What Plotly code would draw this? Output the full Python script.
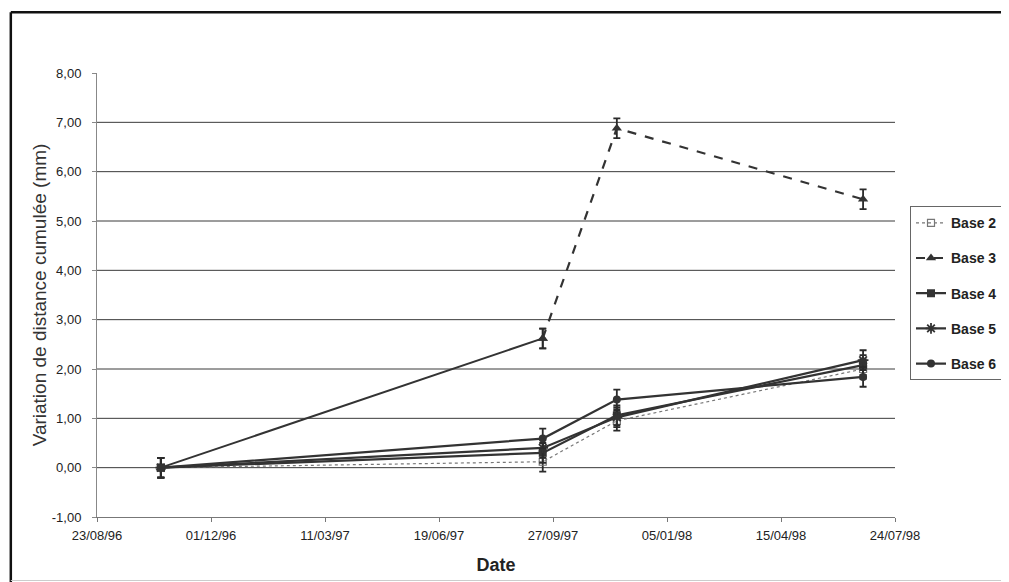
import plotly.graph_objects as go

# ---- data ----
dates = ["1996-10-18", "1997-09-18", "1997-11-22", "1998-06-26"]
base2 = [0.00, 0.12, 0.95, 2.00]
base3 = [0.00, 2.62, 6.88, 5.44]
base4 = [0.00, 0.30, 1.06, 2.08]
base5 = [0.00, 0.40, 1.02, 2.18]
base6 = [0.00, 0.59, 1.38, 1.84]
err2 = [0.20, 0.20, 0.20, 0.20]
err3 = [0.20, 0.20, 0.20, 0.20]
err4 = [0.20, 0.20, 0.20, 0.20]
err5 = [0.20, 0.20, 0.20, 0.20]
err6 = [0.20, 0.20, 0.20, 0.20]

tick_dates = ["1996-08-23", "1996-12-01", "1997-03-11", "1997-06-19",
              "1997-09-27", "1998-01-05", "1998-04-15", "1998-07-24"]
tick_labels = ["23/08/96", "01/12/96", "11/03/97", "19/06/97",
               "27/09/97", "05/01/98", "15/04/98", "24/07/98"]
y_ticks = [-1, 0, 1, 2, 3, 4, 5, 6, 7, 8]
y_tick_labels = ["-1,00", "0,00", "1,00", "2,00", "3,00", "4,00",
                 "5,00", "6,00", "7,00", "8,00"]
y_grid = [0, 1, 2, 3, 4, 5, 6, 7]

DARK = "#333333"

def eb(vals):
    return dict(type="data", array=vals, visible=True, color="#2a2a2a",
                thickness=1.8, width=3.5)

fig = go.Figure()

fig.add_trace(go.Scatter(
    x=dates, y=base2, name="Base 2", mode="lines+markers", legendgroup="b2",
    line=dict(color="#777777", width=1.2, dash="dot"),
    marker=dict(symbol="square-open", size=7, color="#777777", line=dict(width=1.2)),
    error_y=eb(err2)))

# Base 3 : dashed part (with legend entry), then the first segment drawn solid
fig.add_trace(go.Scatter(
    x=dates[1:], y=base3[1:], name="Base 3", mode="lines+markers", legendgroup="b3",
    line=dict(color=DARK, width=2.2, dash="dash"),
    marker=dict(symbol="triangle-up", size=9, color=DARK),
    error_y=eb(err3[1:])))
fig.add_trace(go.Scatter(
    x=dates[:2], y=base3[:2], name="Base 3", mode="lines+markers", legendgroup="b3",
    showlegend=False,
    line=dict(color=DARK, width=2),
    marker=dict(symbol="triangle-up", size=9, color=DARK),
    error_y=eb(err3[:2])))

fig.add_trace(go.Scatter(
    x=dates, y=base4, name="Base 4", mode="lines+markers", legendgroup="b4",
    line=dict(color=DARK, width=2.2),
    marker=dict(symbol="square", size=8, color=DARK),
    error_y=eb(err4)))

fig.add_trace(go.Scatter(
    x=dates, y=base5, name="Base 5", mode="lines+markers", legendgroup="b5",
    line=dict(color=DARK, width=2.2),
    marker=dict(symbol="asterisk-open", size=9, color=DARK, line=dict(width=1.8, color=DARK)),
    error_y=eb(err5)))

fig.add_trace(go.Scatter(
    x=dates, y=base6, name="Base 6", mode="lines+markers", legendgroup="b6",
    line=dict(color=DARK, width=2.2),
    marker=dict(symbol="circle", size=8, color=DARK),
    error_y=eb(err6)))

shapes = []
for g in y_grid:
    shapes.append(dict(type="line", xref="paper", x0=0, x1=1, yref="y", y0=g, y1=g,
                       line=dict(color="#3a3a3a", width=1), layer="below"))
# outer frame
shapes.append(dict(type="line", xref="paper", yref="paper", x0=-0.108, x1=1.2,
                   y0=1.137, y1=1.137, line=dict(color="#111111", width=2.5)))
shapes.append(dict(type="line", xref="paper", yref="paper", x0=-0.108, x1=-0.108,
                   y0=1.137, y1=-0.15, line=dict(color="#111111", width=2.5)))
shapes.append(dict(type="line", xref="paper", yref="paper", x0=-0.108, x1=1.2,
                   y0=-0.143, y1=-0.143, line=dict(color="#cccccc", width=1)))

# page body has an 8px default margin: margins compensate so the plot sits where the reference has it
fig.update_layout(
    width=1009, height=582,
    margin=dict(l=89, r=122, t=65, b=73, autoexpand=False),
    paper_bgcolor="white", plot_bgcolor="white",
    separators=", ",
    font=dict(family="Liberation Sans, Arial, sans-serif", color="#222222"),
    showlegend=True,
    legend=dict(x=1.0188, xanchor="left", y=0.70, yanchor="top",
                bordercolor="#666666", borderwidth=1, bgcolor="white",
                traceorder="grouped", tracegroupgap=14,
                font=dict(family="Liberation Sans, Arial, sans-serif", size=14,
                          color="#222222", weight="bold"),
                itemwidth=30),
    shapes=shapes,
    xaxis=dict(type="date", range=[tick_dates[0], tick_dates[-1]],
               tickmode="array", tickvals=tick_dates, ticktext=tick_labels,
               showgrid=False, zeroline=False,
               showline=True, linecolor="#777777", linewidth=1,
               ticks="outside", ticklen=4, tickcolor="#777777",
               ticklabelstandoff=2,
               tickfont=dict(size=13, color="#222222"),
               title=dict(text="Date", standoff=16,
                          font=dict(size=18, color="#222222", weight="bold",
                                    family="Liberation Sans Narrow, Liberation Sans, sans-serif"))),
    yaxis=dict(range=[-1, 8], tickmode="array", tickvals=y_ticks, ticktext=y_tick_labels,
               showgrid=False, zeroline=False,
               showline=True, linecolor="#888888", linewidth=1,
               ticks="outside", ticklen=4, tickcolor="#888888",
               ticklabelstandoff=8,
               tickfont=dict(size=13, color="#222222"),
               title=dict(text="Variation de distance cumulée (mm)", standoff=0,
                          font=dict(size=19, color="#333333"))),
)

fig.write_html("out.html")
